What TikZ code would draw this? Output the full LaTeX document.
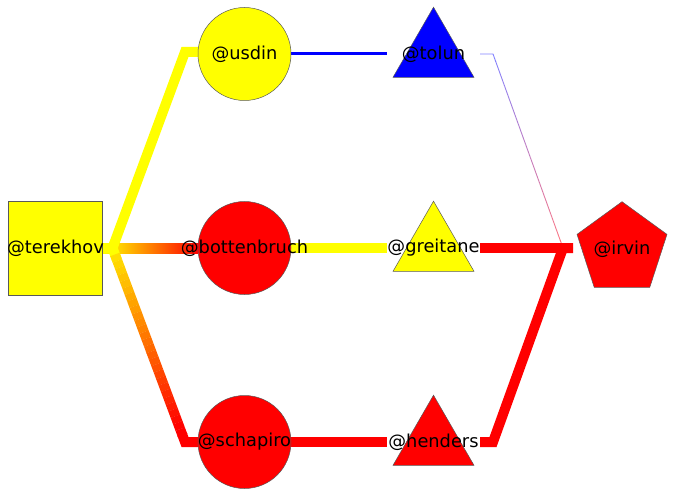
\documentclass[tikz,border=0pt]{standalone}
\usepackage{fontspec}
\setmainfont{DejaVu Sans}
\usetikzlibrary{shapes.geometric,calc}
\pgfdeclarelayer{bg}
\pgfsetlayers{bg,main}
\definecolor{yel}{RGB}{255,255,0}
\definecolor{rd}{RGB}{255,0,0}
\definecolor{bl}{RGB}{0,0,255}
\definecolor{lightblu}{RGB}{130,130,255}
\definecolor{lightrd}{RGB}{255,120,130}
\begin{document}
\begin{tikzpicture}[x=1pt,y=-1pt,
  shp/.style={draw=gray!70!black, line width=0.5pt, inner sep=0pt, outer sep=0pt},
  sq/.style={shp, rectangle, minimum size=94pt},
  circ/.style={shp, circle, minimum size=93pt},
  tri/.style={shp, regular polygon, regular polygon sides=3, minimum size=93.6pt},
  pent/.style={shp, regular polygon, regular polygon sides=5, minimum size=94.6pt},
  lbl/.style={font=\fontsize{17.8}{20}\selectfont, inner sep=0pt, text=black},
  fat/.style={line width=10pt, line join=miter},
  thinline/.style={line width=0.9pt, line join=miter},
]
\useasboundingbox (0,0) rectangle (674,497);

% nodes
\node[sq, fill=yel, label={[lbl]center:@terekhov}] (terekhov) at (55.5,248) {};
\node[circ, fill=yel, label={[lbl]center:@usdin}] (usdin) at (244.5,54) {};
\node[circ, fill=rd, label={[lbl]center:@bottenbruch}] (bottenbruch) at (244.5,248) {};
\node[circ, fill=rd, label={[lbl]center:@schapiro}] (schapiro) at (244.5,442) {};
\node[tri, fill=bl, label={[lbl]center:@tolun}] (tolun) at (433.5,54) {};
\node[tri, fill=yel, label={[lbl]center:@greitane}] (greitane) at (433.5,248) {};
\node[tri, fill=rd, label={[lbl]center:@henders}] (henders) at (433.5,442) {};
\node[pent, fill=rd, label={[lbl]center:@irvin}] (irvin) at (622,249) {};

% connection points
\coordinate (tA) at ($(terekhov.east)+(10,0)$);
\coordinate (uB) at ($(usdin.west)+(-13,-2)$);
\coordinate (uE) at ($(usdin.west)+(0,-2)$);
\coordinate (sB) at ($(schapiro.west)+(-13,0)$);
\coordinate (tolunIn) at ($(tolun.center)+(-46.5,0)$);
\coordinate (tolunOut) at ($(tolun.center)+(46.5,0)$);
\coordinate (tolunA) at ($(tolunOut)+(13,0)$);
\coordinate (greitaneIn) at ($(greitane.center)+(-46.5,0)$);
\coordinate (greitaneOut) at ($(greitane.center)+(46.5,0)$);
\coordinate (hendersIn) at ($(henders.center)+(-46.5,0)$);
\coordinate (hendersOut) at ($(henders.center)+(46.5,0)$);
\coordinate (hendersA) at ($(hendersOut)+(13,0)$);
\coordinate (irvinB) at ($(irvin.center)+(-59,-1)$);
\coordinate (irvinIn) at ($(irvin.center)+(-49,-1)$);

\begin{pgfonlayer}{bg}
% terekhov -> bottenbruch (gradient)
\shade[left color=yel, right color=rd]
  ($(terekhov.east)+(0,-5)$) rectangle ($(bottenbruch.west)+(0,5)$);
% terekhov -> schapiro (gradient along path)
\draw[fat, yel] (terekhov.east) -- (tA) -- ($(tA)!0.06!(sB)$);
\foreach \i in {1,...,28}{
  \pgfmathsetmacro\pa{\i/30}
  \pgfmathsetmacro\pb{(\i+1.02)/30}
  \pgfmathtruncatemacro\pc{min(100,8+100*(\i+0.5)/30)}
  \draw[line width=10pt, rd!\pc!yel] ($(tA)!\pa!(sB)$) -- ($(tA)!\pb!(sB)$);
}
\draw[fat, rd] ($(tA)!0.96!(sB)$) -- (sB) -- (schapiro.west);
% terekhov -> usdin
\draw[fat, yel] (terekhov.east) -- (tA) -- (uB) -- (uE);
% usdin -> tolun
\draw[line width=3pt, bl] (usdin.east) -- (tolunIn);
% bottenbruch -> greitane
\draw[fat, yel] (bottenbruch.east) -- (greitaneIn);
% schapiro -> henders
\draw[fat, rd] (schapiro.east) -- (hendersIn);
% tolun -> irvin (thin gradient)
\draw[thinline, lightblu] (tolunOut) -- (tolunA) -- ($(tolunA)!0.04!(irvinB)$);
\foreach \i in {1,...,28}{
  \pgfmathsetmacro\pa{\i/30}
  \pgfmathsetmacro\pb{(\i+1.02)/30}
  \pgfmathtruncatemacro\pc{100*(\i+0.5)/30}
  \draw[line width=0.9pt, lightrd!\pc!lightblu] ($(tolunA)!\pa!(irvinB)$) -- ($(tolunA)!\pb!(irvinB)$);
}
\draw[thinline, lightrd] ($(tolunA)!0.96!(irvinB)$) -- (irvinB) -- (irvinIn);
% greitane -> irvin
\draw[fat, rd] (greitaneOut) -- (irvinIn);
% henders -> irvin
\draw[fat, rd] (hendersOut) -- (hendersA) -- (irvinB) -- (irvinIn);
\end{pgfonlayer}
\end{tikzpicture}
\end{document}
